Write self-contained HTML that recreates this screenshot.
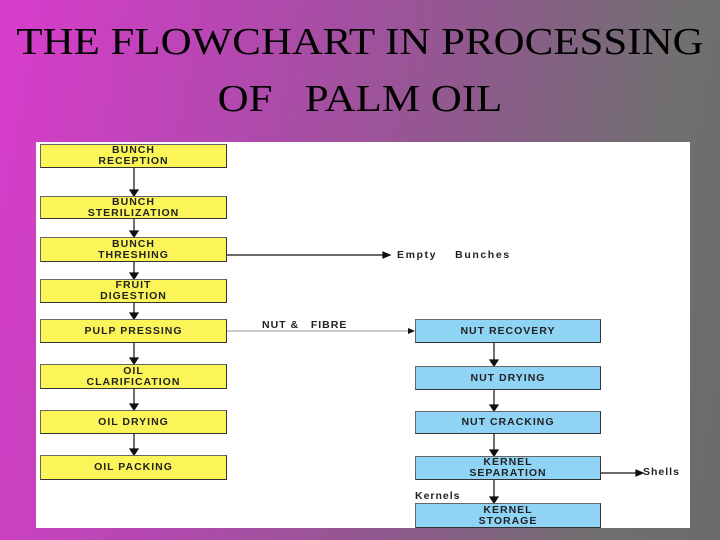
<!DOCTYPE html>
<html><head><style>
body{margin:0;width:720px;height:540px;overflow:hidden;position:relative;
background:linear-gradient(100deg,#d93ccc 0%,#b448b0 30%,#8e5a8c 60%,#707070 85%,#6a6a6a 100%);
font-family:"Liberation Serif",serif;}
.t{position:absolute;left:0;width:720px;text-align:center;color:#000;font-size:38px;letter-spacing:0;transform:scaleX(1.13);transform-origin:360px 0;}
.w{position:absolute;left:36px;top:142px;width:654px;height:386px;background:#fff;}
.b{position:absolute;box-sizing:border-box;border:1px solid #666;border-right-color:#333;border-bottom-color:#333;font-family:"Liberation Sans",sans-serif;font-weight:bold;font-size:10.5px;line-height:11px;color:#222;text-align:center;display:flex;align-items:center;justify-content:center;letter-spacing:1px}
.y{background:#fbf55a;left:40px;width:187px;}
.c{background:#8fd3f5;left:415px;width:186px;}
.l{position:absolute;font-family:"Liberation Sans",sans-serif;font-weight:bold;font-size:10.5px;color:#222;letter-spacing:1px}
</style></head><body>
<div class="t" style="top:20px">THE FLOWCHART IN PROCESSING</div>
<div class="t" style="top:77px">OF&nbsp;&nbsp; PALM OIL</div>
<div class="w"></div>
<svg style="position:absolute;left:0;top:0" width="720" height="540">
<g stroke="#111" stroke-width="1.2" fill="#111">
<line x1="134" y1="167" x2="134" y2="194"/><polygon points="130,190 138,190 134,196"/>
<line x1="134" y1="218" x2="134" y2="235"/><polygon points="130,231 138,231 134,237"/>
<line x1="134" y1="261" x2="134" y2="277"/><polygon points="130,273 138,273 134,279"/>
<line x1="134" y1="302" x2="134" y2="317"/><polygon points="130,313 138,313 134,319"/>
<line x1="134" y1="342" x2="134" y2="362"/><polygon points="130,358 138,358 134,364"/>
<line x1="134" y1="388" x2="134" y2="408"/><polygon points="130,404 138,404 134,410"/>
<line x1="134" y1="433" x2="134" y2="453"/><polygon points="130,449 138,449 134,455"/>
<line x1="227" y1="255" x2="388" y2="255"/><polygon points="383,252 390,255 383,258"/>
<line x1="494" y1="342" x2="494" y2="364"/><polygon points="490,360 498,360 494,366"/>
<line x1="494" y1="389" x2="494" y2="409"/><polygon points="490,405 498,405 494,411"/>
<line x1="494" y1="433" x2="494" y2="454"/><polygon points="490,450 498,450 494,456"/>
<line x1="494" y1="479" x2="494" y2="501"/><polygon points="490,497 498,497 494,503"/>
<line x1="601" y1="473" x2="640" y2="473"/><polygon points="636,470 643,473 636,476"/>
</g>
<line x1="227" y1="331" x2="412" y2="331" stroke="#999" stroke-width="1"/><polygon points="408,328 415,331 408,334" fill="#111"/>
</svg>
<div class="b y" style="top:144px;height:24px">BUNCH<br>RECEPTION</div>
<div class="b y" style="top:196px;height:23px">BUNCH<br>STERILIZATION</div>
<div class="b y" style="top:237px;height:25px">BUNCH<br>THRESHING</div>
<div class="b y" style="top:279px;height:24px">FRUIT<br>DIGESTION</div>
<div class="b y" style="top:319px;height:24px">PULP PRESSING</div>
<div class="b y" style="top:364px;height:25px">OIL<br>CLARIFICATION</div>
<div class="b y" style="top:410px;height:24px">OIL DRYING</div>
<div class="b y" style="top:455px;height:25px">OIL PACKING</div>
<div class="b c" style="top:319px;height:24px">NUT RECOVERY</div>
<div class="b c" style="top:366px;height:24px">NUT DRYING</div>
<div class="b c" style="top:411px;height:23px">NUT CRACKING</div>
<div class="b c" style="top:456px;height:24px">KERNEL<br>SEPARATION</div>
<div class="b c" style="top:503px;height:25px">KERNEL<br>STORAGE</div>
<div class="l" style="left:397px;top:249px;letter-spacing:1.6px">Empty&nbsp;&nbsp;&nbsp; Bunches</div>
<div class="l" style="left:262px;top:319px">NUT &amp;&nbsp;&nbsp; FIBRE</div>
<div class="l" style="left:643px;top:466px">Shells</div>
<div class="l" style="left:415px;top:490px">Kernels</div>
</body></html>
